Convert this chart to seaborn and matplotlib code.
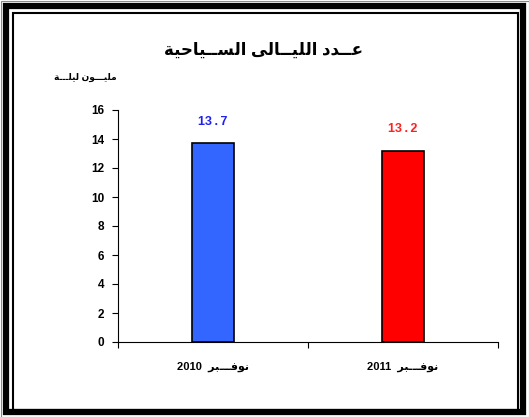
import matplotlib
matplotlib.use("Agg")
import matplotlib.pyplot as plt
import matplotlib.patches as mpatches
import seaborn as sns

# Arabic text is written in visual (left-to-right) order with presentation forms,
# because matplotlib does no Arabic shaping / bidi
titulo = "\uFE94\uFEF4\uFEA3\uFE8E\uFEF4\u0640\u0640\uFEB4\uFEDF\uFE8D \uFEF0\uFEDF\uFE8E\u0640\u0640\uFEF4\uFEE0\uFEDF\uFE8D \uFEA9\uFEAA\u0640\u0640\uFECB"
unidade = "\uFE94\u0640\u0640\u0640\uFEE0\uFEF4\uFEDF \uFEE5\uFEEE\u0640\u0640\u0640\uFEF4\uFEE0\uFEE3"
mes = "\uFEAE\uFE92\u0640\u0640\u0640\uFED3\uFEEE\uFEE7"

categorias = [f"2010  {mes}", f"2011  {mes}"]
valores = [13.7, 13.2]
cores = ["#3366FF", "#FF0000"]
cores_rotulo = ["#1f1fF0", "#FF2020"]
yticks = [0, 2, 4, 6, 8, 10, 12, 14, 16]

sns.set_theme(style="white")
plt.rcParams['font.family'] = ['Liberation Sans', 'DejaVu Sans']
plt.rcParams['font.weight'] = 'bold'
plt.rcParams['text.color'] = 'black'
plt.rcParams['xtick.color'] = 'black'
plt.rcParams['ytick.color'] = 'black'

fig = plt.figure(figsize=(5.29, 4.17), dpi=100)
ax = fig.add_axes([118 / 529, 75 / 417, 380 / 529, 232 / 417])

sns.barplot(x=categorias, y=valores, hue=categorias, palette=cores, width=0.22, saturation=1,
            edgecolor='black', linewidth=1.2, legend=False, ax=ax)

ax.set_xlim(-0.5, 1.5)
ax.set_ylim(0, 16)
ax.set_yticks(yticks)
ax.set_yticklabels([str(v) for v in yticks], fontsize=8.5, fontweight='bold')
ax.tick_params(axis='y', direction='out', length=4, width=0.8, color='black', pad=6, left=True)
ax.tick_params(axis='x', which='major', length=0, pad=14, labelsize=8)
ax.set_xticks([-0.5, 0.5, 1.5], minor=True)
ax.tick_params(axis='x', which='minor', direction='out', length=4, width=0.8, color='black', bottom=True)
for t in ax.get_xticklabels():
    t.set_fontweight('bold')

sns.despine(ax=ax)
ax.spines['left'].set_color('black')
ax.spines['bottom'].set_color('black')
ax.spines['left'].set_linewidth(0.8)
ax.spines['bottom'].set_linewidth(0.8)
ax.grid(False)

# rotulos dos valores (espacados como no original)
for i, v in enumerate(valores):
    ax.annotate(f'{v:.1f}'.replace('.', '\u2009.\u2009'), (i, v), xytext=(0, 11), textcoords='offset points',
                ha='center', va='bottom', fontsize=9, fontweight='bold', color=cores_rotulo[i])

ax.set_xlabel('')
ax.set_ylabel('')

fig.text(264 / 529, 1 - 50 / 417, titulo, ha='center', va='center', fontsize=12, fontweight='bold')
fig.text(85 / 529, 1 - 77 / 417, unidade, ha='center', va='center', fontsize=6.5, fontweight='bold')

# moldura dupla
fig.patches.append(mpatches.Rectangle((6 / 529, 5.5 / 417), 517 / 529, 406 / 417, transform=fig.transFigure,
                                      fill=False, edgecolor='black', linewidth=4.5))
fig.patches.append(mpatches.Rectangle((12.5 / 529, 7.5 / 417), 505 / 529, 397 / 417, transform=fig.transFigure,
                                      fill=False, edgecolor='black', linewidth=1.5))
fig.patches.append(mpatches.Rectangle((0.5 / 529, 0.5 / 417), 528 / 529, 416 / 417, transform=fig.transFigure,
                                      fill=False, edgecolor='#888888', linewidth=0.8))

fig.savefig('out.png', dpi=100)
plt.close(fig)
